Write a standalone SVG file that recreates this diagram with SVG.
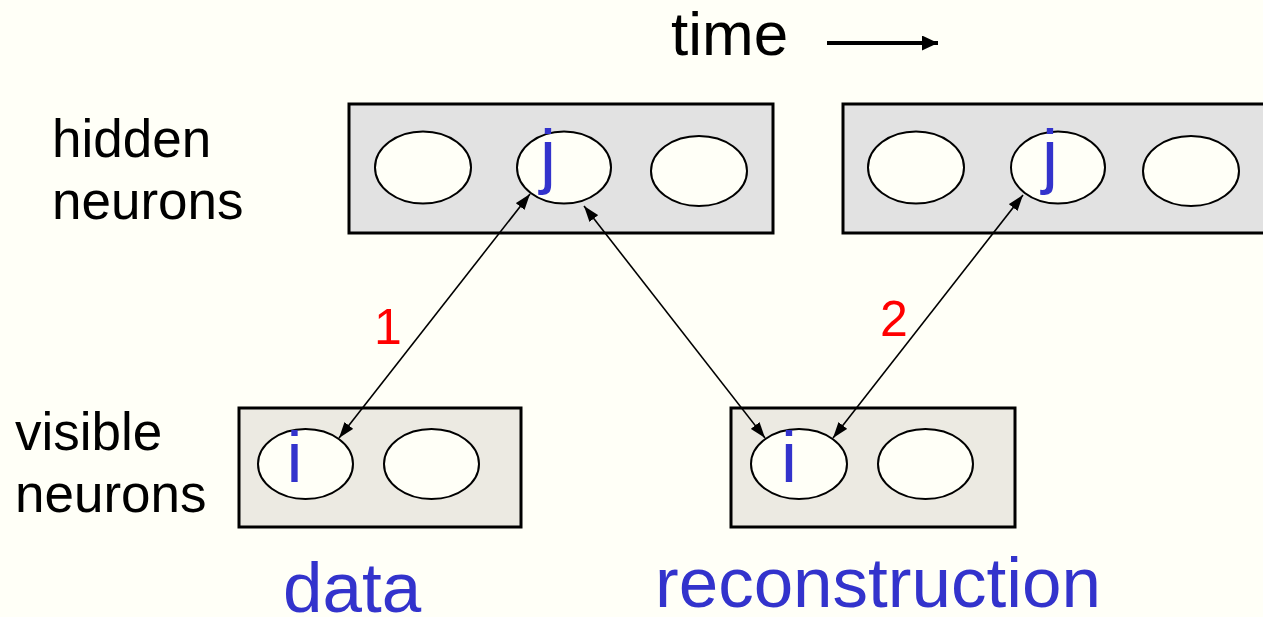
<svg xmlns="http://www.w3.org/2000/svg" width="1263" height="617" viewBox="0 0 1263 617">
  <style>
    .label { font-family: "Liberation Sans", Arial, sans-serif; fill: #000; }
    .unit { font-family: "Liberation Sans", Arial, sans-serif; font-size: 72px; fill: #3333CC; text-anchor: middle; }
    .caption { font-family: "Liberation Sans", Arial, sans-serif; font-size: 71px; fill: #3333CC; }
    .step { font-family: "Liberation Sans", Arial, sans-serif; font-size: 50px; fill: #FF0000; text-anchor: middle; }
    .hidden-layer { fill: #E2E2E2; stroke: #000; stroke-width: 3; }
    .visible-layer { fill: #ECEAE2; stroke: #000; stroke-width: 3; }
    .neuron { fill: #FFFFF7; stroke: #000; stroke-width: 2; }
    .link { stroke: #000; stroke-width: 1.6; fill: none; marker-start: url(#head); marker-end: url(#head); }
  </style>
  <defs>
    <marker id="head" viewBox="0 0 16 11" refX="16" refY="5.5" markerWidth="16" markerHeight="11" markerUnits="userSpaceOnUse" orient="auto-start-reverse">
      <path d="M0,0 L16,5.5 L0,11 Z" fill="#000"/>
    </marker>
    <marker id="timehead" viewBox="0 0 16 15" refX="16" refY="7.5" markerWidth="16" markerHeight="15" markerUnits="userSpaceOnUse" orient="auto">
      <path d="M0,0 L16,7.5 L0,15 Z" fill="#000"/>
    </marker>
  </defs>

  <rect width="1263" height="617" fill="#FFFFF7"/>

  <!-- time axis -->
  <g id="time">
    <text class="label" x="671" y="55" font-size="62">time</text>
    <line x1="827" y1="43" x2="938" y2="43" stroke="#000" stroke-width="4" marker-end="url(#timehead)"/>
  </g>

  <!-- row labels -->
  <g id="hidden-label">
    <text class="label" x="52" y="157" font-size="53">hidden</text>
    <text class="label" x="52" y="219" font-size="53">neurons</text>
  </g>
  <g id="visible-label">
    <text class="label" x="15" y="450" font-size="53">visible</text>
    <text class="label" x="15" y="512" font-size="53">neurons</text>
  </g>

  <!-- hidden layer, first step -->
  <g id="hidden-1">
    <rect class="hidden-layer" x="349" y="104" width="424" height="129"/>
    <ellipse class="neuron" cx="423" cy="167.5" rx="48" ry="36"/>
    <ellipse class="neuron" cx="564" cy="167.5" rx="47" ry="36"/>
    <ellipse class="neuron" cx="699" cy="171" rx="48" ry="35"/>
    <text class="unit" x="548" y="180">j</text>
  </g>

  <!-- hidden layer, second step -->
  <g id="hidden-2">
    <rect class="hidden-layer" x="843" y="104" width="430" height="129"/>
    <ellipse class="neuron" cx="916" cy="167.5" rx="48" ry="36"/>
    <ellipse class="neuron" cx="1058" cy="167.5" rx="47" ry="36"/>
    <ellipse class="neuron" cx="1191" cy="171" rx="48" ry="35"/>
    <text class="unit" x="1050" y="180">j</text>
  </g>

  <!-- visible layer: data -->
  <g id="visible-data">
    <rect class="visible-layer" x="239" y="408" width="282" height="119"/>
    <ellipse class="neuron" cx="305.5" cy="464" rx="47.5" ry="35"/>
    <ellipse class="neuron" cx="431.5" cy="464" rx="47.5" ry="35"/>
    <text class="unit" x="294.5" y="482">i</text>
  </g>

  <!-- visible layer: reconstruction -->
  <g id="visible-reconstruction">
    <rect class="visible-layer" x="731" y="408" width="284" height="119"/>
    <ellipse class="neuron" cx="799" cy="464" rx="48" ry="35"/>
    <ellipse class="neuron" cx="925.5" cy="464" rx="47.5" ry="35"/>
    <text class="unit" x="789" y="482">i</text>
  </g>

  <!-- connections between layers -->
  <g id="connectors">
    <line class="link" x1="339" y1="438" x2="530" y2="194"/>
    <line class="link" x1="584" y1="206" x2="765" y2="438"/>
    <line class="link" x1="833" y1="438" x2="1023" y2="195"/>
  </g>

  <g id="step-labels">
    <text class="step" x="388" y="344">1</text>
    <text class="step" x="894" y="336">2</text>
  </g>

  <g id="captions">
    <text class="caption" x="283" y="612">data</text>
    <text class="caption" x="655" y="607">reconstruction</text>
  </g>
</svg>
